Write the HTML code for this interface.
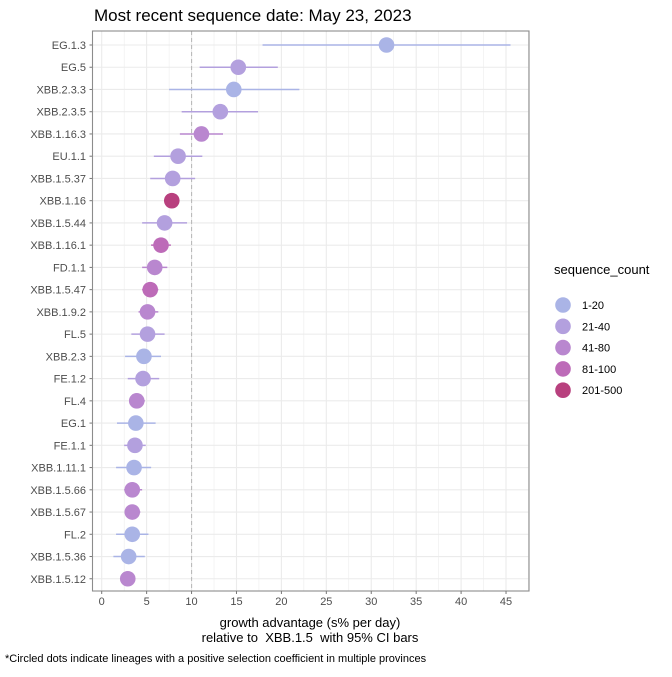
<!DOCTYPE html>
<html><head><meta charset="utf-8"><style>
body{margin:0;background:#fff;}
svg text{font-family:"Liberation Sans",sans-serif;}
</style></head><body>
<svg id="chart" width="672" height="672" viewBox="0 0 672 672">
<rect width="672" height="672" fill="#fff"/>
<text x="94" y="21" font-size="17" fill="#000">Most recent sequence date: May 23, 2023</text>
<g id="grid"></g>
<g id="bars"></g>
<g id="dots"></g>
<g id="axes"></g>
<g id="legend"></g>
<text x="310" y="627" font-size="13" text-anchor="middle" fill="#000">growth advantage (s% per day)</text>
<text x="310" y="642" font-size="13" text-anchor="middle" fill="#000" xml:space="preserve">relative to  XBB.1.5  with 95% CI bars</text>
<text x="5" y="662" font-size="11" fill="#000">*Circled dots indicate lineages with a positive selection coefficient in multiple provinces</text>
</svg>
<script>
const lineages=["EG.1.3","EG.5","XBB.2.3.3","XBB.2.3.5","XBB.1.16.3","EU.1.1","XBB.1.5.37","XBB.1.16","XBB.1.5.44","XBB.1.16.1","FD.1.1","XBB.1.5.47","XBB.1.9.2","FL.5","XBB.2.3","FE.1.2","FL.4","EG.1","FE.1.1","XBB.1.11.1","XBB.1.5.66","XBB.1.5.67","FL.2","XBB.1.5.36","XBB.1.5.12"];
const estimate=[31.7,15.2,14.7,13.2,11.1,8.5,7.9,7.8,7.0,6.6,5.9,5.4,5.1,5.1,4.7,4.6,3.9,3.8,3.7,3.6,3.4,3.4,3.4,3.0,2.9];
const ciLow=[17.9,10.9,7.5,8.9,8.7,5.8,5.4,7.3,4.5,5.5,4.5,4.5,4.1,3.3,2.6,2.9,3.2,1.7,2.5,1.6,2.5,2.6,1.6,1.3,2.1];
const ciHigh=[45.5,19.6,22.0,17.4,13.5,11.2,10.4,8.3,9.5,7.7,7.3,6.3,6.3,7.0,6.6,6.4,4.8,6.0,4.9,5.5,4.5,4.3,5.2,4.8,3.7];
const countGroup=[0,1,0,1,2,1,1,4,1,3,2,3,2,1,0,1,2,0,1,0,2,2,0,0,2];
const groupLabels=["1-20","21-40","41-80","81-100","201-500"];
const groupColors=["#aab4e6","#b3a0de","#b987cf","#bd6bb8","#b8407e"];
const xTicks=[0,5,10,15,20,25,30,35,40,45];
const NS="http://www.w3.org/2000/svg";
const L=92.5,R=529,T=31,B=591;
const xs=v=>101.7+v*8.985;
const ys=i=>45+i*22.24;
function mk(tag,attrs,parent,txt){const e=document.createElementNS(NS,tag);for(const k in attrs)e.setAttribute(k,attrs[k]);if(txt!==undefined)e.textContent=txt;document.getElementById(parent).appendChild(e);return e;}
for(let v=-2.5;v<=47.5;v+=2.5){const x=xs(v);if(x<L||x>R)continue;const major=(v%5===0);
const g=mk('line',{x1:x,x2:x,y1:T,y2:B,stroke:'#ebebeb','stroke-width':major?1.1:0.55},'grid');

}
lineages.forEach((n,i)=>{const g=mk('line',{x1:L,x2:R,y1:ys(i),y2:ys(i),stroke:'#ebebeb','stroke-width':1.1},'grid');

});
const ref=mk('line',{x1:xs(10),x2:xs(10),y1:T,y2:B,stroke:'#bbb','stroke-width':1.1,'stroke-dasharray':'4,3'},'grid');


lineages.forEach((n,i)=>{const c=groupColors[countGroup[i]];
const b=mk('line',{x1:xs(ciLow[i]),x2:xs(ciHigh[i]),y1:ys(i),y2:ys(i),stroke:c,'stroke-width':1.5},'bars');


const d=mk('circle',{cx:xs(estimate[i]),cy:ys(i),r:7.8,fill:c},'dots');


const t=mk('text',{x:86,y:ys(i)+4,'font-size':11,'text-anchor':'end',fill:'#4d4d4d'},'axes',n);


const tk=mk('line',{x1:89.5,x2:92.5,y1:ys(i),y2:ys(i),stroke:'#777','stroke-width':1},'axes');

});
const fr=mk('rect',{x:L,y:T,width:R-L,height:B-T,fill:'none',stroke:'#8c8c8c','stroke-width':1.1},'axes');


xTicks.forEach(v=>{const x=xs(v);
const tk=mk('line',{x1:x,x2:x,y1:B,y2:B+3,stroke:'#777','stroke-width':1},'axes');


const t=mk('text',{x:x,y:B+14,'font-size':11,'text-anchor':'middle',fill:'#4d4d4d'},'axes',String(v));

});
const lt=mk('text',{x:554,y:274,'font-size':13,fill:'#000'},'legend','sequence_count');


groupLabels.forEach((l,k)=>{const y=305+k*21.3;
const c=mk('circle',{cx:563,cy:y,r:7.8,fill:groupColors[k]},'legend');


const t=mk('text',{x:582,y:y+4,'font-size':11,fill:'#000'},'legend',l);

});
</script>
</body></html>
